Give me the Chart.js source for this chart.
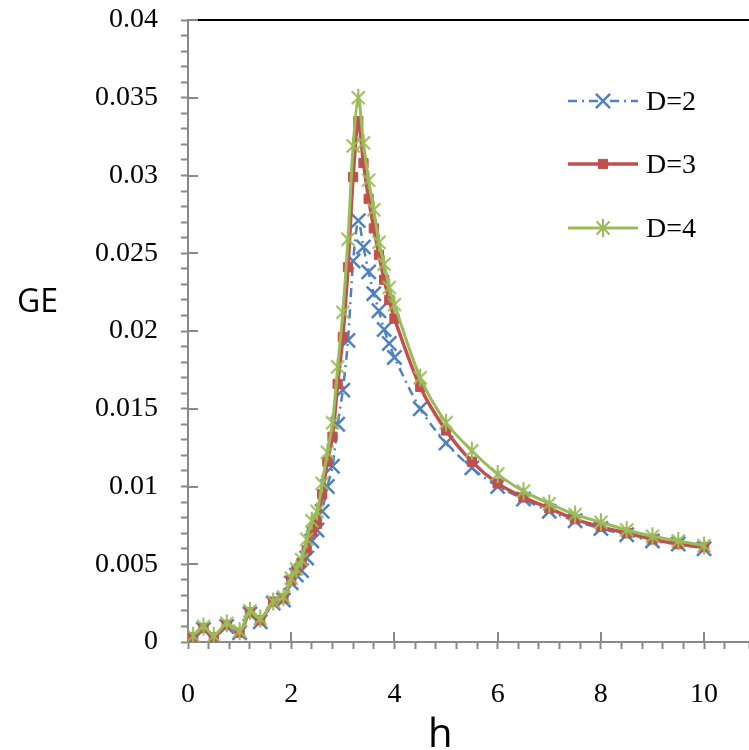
<!DOCTYPE html>
<html>
<head>
<meta charset="utf-8">
<script src="https://cdn.jsdelivr.net/npm/chart.js@4.4.0/dist/chart.umd.min.js"></script>
<style>
    body { margin: 0; background: #fff; overflow: hidden; }
    .wrap { position: relative; width: 762px; height: 750px; }
    .axis-title { position: absolute; font-family: 'Open Sans', sans-serif; line-height: 1; color: #000; }
    #yTitle { left: 17px; top: 284px; font-size: 32px; }
    #xTitle { left: 428px; top: 712px; font-size: 40px; }
</style>
</head>
<body>
<div class="wrap">
    <canvas id="geChart"></canvas>
    <div class="axis-title" id="yTitle">GE</div>
    <div class="axis-title" id="xTitle">h</div>
</div>
<script>
'use strict';

const hValues = [0.1, 0.3, 0.5, 0.75, 1.0, 1.2, 1.4, 1.65, 1.85, 2.0, 2.1, 2.2, 2.3, 2.4, 2.5, 2.6, 2.7, 2.8, 2.9, 3.0,
    3.1, 3.2, 3.3, 3.4, 3.5, 3.6, 3.7, 3.8, 3.9, 4.0, 4.5, 5.0, 5.5, 6.0, 6.5, 7.0, 7.5, 8.0, 8.5, 9.0, 9.5, 10.0];

const geD2 = [0.0003, 0.0008, 0.0003, 0.0010, 0.0006, 0.0018, 0.0013, 0.0025, 0.0027, 0.0038, 0.0043, 0.0046, 0.0054, 0.0065,
    0.0072, 0.0084, 0.0100, 0.0113, 0.0140, 0.0162, 0.0194, 0.0245, 0.0271, 0.0254, 0.0238, 0.0224, 0.0213, 0.0201, 0.0192,
    0.0183, 0.0150, 0.0128, 0.0112, 0.0100, 0.0092, 0.0084, 0.0078, 0.0073, 0.0069, 0.0065, 0.0063, 0.0060];

const geD3 = [0.0003, 0.0009, 0.0003, 0.0011, 0.0006, 0.0019, 0.0014, 0.0026, 0.0028, 0.0040, 0.0046, 0.0051, 0.0059, 0.0071,
    0.0076, 0.0095, 0.0116, 0.0132, 0.0166, 0.0196, 0.0241, 0.0299, 0.0335, 0.0308, 0.0285, 0.0266, 0.0249, 0.0233, 0.0220,
    0.0208, 0.0164, 0.0136, 0.0116, 0.0102, 0.0093, 0.0086, 0.0079, 0.0074, 0.0070, 0.0066, 0.0063, 0.0061];

const geD4 = [0.0004, 0.0010, 0.0004, 0.0012, 0.0007, 0.0020, 0.0015, 0.0026, 0.0029, 0.0041, 0.0047, 0.0053, 0.0066, 0.0078,
    0.0084, 0.0102, 0.0122, 0.0141, 0.0177, 0.0212, 0.0259, 0.0319, 0.0350, 0.0321, 0.0297, 0.0278, 0.0257, 0.0243, 0.0228,
    0.0217, 0.0170, 0.0141, 0.0123, 0.0108, 0.0097, 0.0089, 0.0082, 0.0077, 0.0072, 0.0068, 0.0065, 0.0062];

const seriesNames = ['D=2', 'D=3', 'D=4'];
const xTickLabels = [0, 2, 4, 6, 8, 10];
const yTickLabels = [0, 0.005, 0.01, 0.015, 0.02, 0.025, 0.03, 0.035, 0.04];

const BLUE = '#4f81bd',
    RED = '#c0504d',
    GREEN = '#9bbb59',
    AXIS = '#898989',
    SERIF = "'Liberation Serif', 'DejaVu Serif', serif";

// asterisk marker: X plus a vertical bar
function makeStar(color) {
    const c = document.createElement('canvas');
    c.width = 20;
    c.height = 20;
    const ctx = c.getContext('2d');
    ctx.strokeStyle = color;
    ctx.lineWidth = 2;
    ctx.beginPath();
    ctx.moveTo(3.5, 3.5); ctx.lineTo(16.5, 16.5);
    ctx.moveTo(16.5, 3.5); ctx.lineTo(3.5, 16.5);
    ctx.moveTo(10, 1); ctx.lineTo(10, 19);
    ctx.stroke();
    return c;
}
const starImg = makeStar(GREEN);

function toPoints(vals) {
    return vals.map((v, i) => ({ x: hValues[i], y: v }));
}

function isMultiple(v, step) {
    return Math.abs(v / step - Math.round(v / step)) < 1e-6;
}

const topLine = {
    id: 'topLine',
    beforeDatasetsDraw(chart) {
        const { ctx, chartArea } = chart;
        ctx.save();
        ctx.strokeStyle = '#000';
        ctx.lineWidth = 2;
        ctx.beginPath();
        ctx.moveTo(chartArea.left + 10, chartArea.top);
        ctx.lineTo(chartArea.right, chartArea.top);
        ctx.stroke();

        // inner half of the major ticks (they cross the axis)
        const x = chart.scales.x, y = chart.scales.y;
        ctx.strokeStyle = AXIS;
        ctx.lineWidth = 2;
        ctx.beginPath();
        xTickLabels.forEach(v => {
            const px = Math.round(x.getPixelForValue(v));
            ctx.moveTo(px, chartArea.bottom);
            ctx.lineTo(px, chartArea.bottom - 10);
        });
        yTickLabels.forEach(v => {
            const py = Math.round(y.getPixelForValue(v));
            ctx.moveTo(chartArea.left, py);
            ctx.lineTo(chartArea.left + 10, py);
        });
        ctx.stroke();
        ctx.restore();
    }
};

const lineLegend = {
    id: 'lineLegend',
    afterDraw(chart) {
        const { ctx } = chart;
        const rows = [101, 164, 228];
        ctx.save();
        chart.data.datasets.forEach((ds, i) => {
            const y = rows[i];
            ctx.strokeStyle = ds.borderColor;
            ctx.lineWidth = ds.borderWidth;
            ctx.setLineDash(ds.borderDash || []);
            ctx.beginPath();
            ctx.moveTo(568, y);
            ctx.lineTo(638, y);
            ctx.stroke();
            ctx.setLineDash([]);
            ctx.fillStyle = ds.backgroundColor;
            ctx.lineWidth = ds.pointBorderWidth;
            Chart.helpers.drawPoint(ctx, {
                pointStyle: ds.pointStyle,
                radius: ds.pointRadius,
                rotation: 0,
                borderWidth: ds.pointBorderWidth
            }, 603, y);
            ctx.fillStyle = '#000';
            ctx.font = '28px ' + SERIF;
            ctx.textBaseline = 'middle';
            ctx.fillText(ds.label, 646, y + 2);
        });
        ctx.restore();
    }
};

const data = {
    datasets: [{
        label: seriesNames[0],
        data: toPoints(geD2),
        borderColor: BLUE,
        backgroundColor: BLUE,
        borderWidth: 2.5,
        borderDash: [9, 5, 2, 5],
        pointStyle: 'crossRot',
        pointRadius: 10,
        pointBorderWidth: 2.5,
        tension: 0.3,
        order: 3
    }, {
        label: seriesNames[1],
        data: toPoints(geD3),
        borderColor: RED,
        backgroundColor: RED,
        borderWidth: 3.5,
        pointStyle: 'rect',
        pointRadius: 6.5,
        pointBorderWidth: 1,
        tension: 0.3,
        order: 2
    }, {
        label: seriesNames[2],
        data: toPoints(geD4),
        borderColor: GREEN,
        backgroundColor: GREEN,
        borderWidth: 3,
        pointStyle: starImg,
        pointRadius: 9,
        pointBorderWidth: 2,
        tension: 0.3,
        order: 1
    }]
};

const config = {
    type: 'line',
    data: data,
    options: {
        responsive: true,
        maintainAspectRatio: false,
        animation: false,
        layout: {
            padding: { top: 20, right: 0, left: 0, bottom: 0 }
        },
        plugins: {
            legend: { display: false },
            tooltip: { enabled: false }
        },
        scales: {
            x: {
                type: 'linear',
                min: 0,
                max: 10.88,
                afterFit: s => {
                    s.height = 108;
                    s.paddingLeft = 0;
                    s.paddingRight = 0;
                },
                border: { display: true, color: AXIS, width: 2 },
                grid: {
                    drawOnChartArea: false,
                    drawTicks: true,
                    tickLength: 7,
                    tickWidth: 2,
                    tickColor: AXIS
                },
                ticks: {
                    stepSize: 0.4,
                    autoSkip: false,
                    maxRotation: 0,
                    padding: 29,
                    color: '#000',
                    font: { family: SERIF, size: 28 },
                    callback: v => (isMultiple(v, 2) && v <= 10 ? String(Math.round(v)) : '')
                }
            },
            y: {
                min: 0,
                max: 0.04,
                afterFit: s => {
                    s.width = 188;
                    s.paddingTop = 0;
                    s.paddingBottom = 0;
                },
                border: { display: true, color: AXIS, width: 2 },
                grid: {
                    drawOnChartArea: false,
                    drawTicks: true,
                    tickLength: 7,
                    tickWidth: 2,
                    tickColor: AXIS
                },
                ticks: {
                    stepSize: 0.001,
                    autoSkip: false,
                    padding: 23,
                    color: '#000',
                    font: { family: SERIF, size: 28 },
                    callback: v => (isMultiple(v, 0.005) ? String(parseFloat(v.toFixed(3))) : '')
                }
            }
        }
    },
    plugins: [topLine, lineLegend]
};

const geChart = new Chart(document.getElementById('geChart'), config);
</script>
</body>
</html>
